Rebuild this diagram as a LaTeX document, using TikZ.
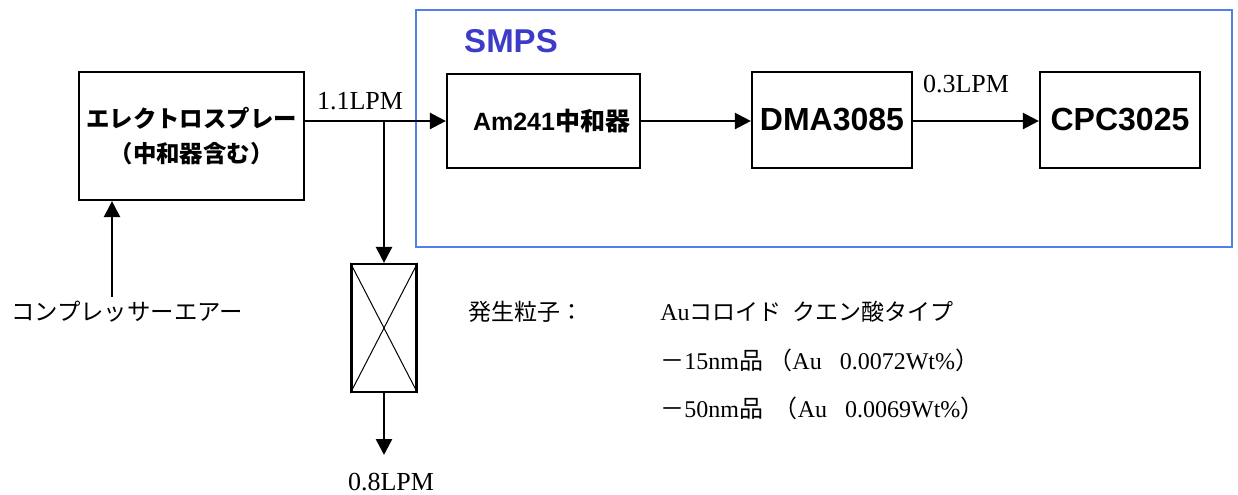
\documentclass[tikz,border=0pt]{standalone}
\usepackage{fontspec}
\setmainfont{Liberation Serif}
\newfontfamily\cjk{Noto Sans CJK JP}
\newfontfamily\arial{Liberation Sans}
\usetikzlibrary{arrows.meta}
\definecolor{smpsframe}{RGB}{85,125,235}
\definecolor{smpstext}{RGB}{60,60,200}

\begin{document}
\begin{tikzpicture}[x=0.5pt, y=-0.5pt,
    blk/.style={draw, line width=1.1pt, inner sep=0pt, align=center},
    flow/.style={line width=1.2pt, -{Triangle[length=8pt,width=8pt]}},
    lpm/.style={inner sep=0pt, font=\fontsize{13pt}{15pt}\selectfont}]
    \useasboundingbox (0,0) rectangle (1238,494);

    % SMPS frame
    \draw[smpsframe, line width=0.8pt] (416,10) rectangle (1232,247);
    \node[inner sep=0pt, text=smpstext, font=\arial\bfseries\fontsize{16.5pt}{19pt}\selectfont] (smps) at (511,41) {SMPS};

    % boxes
    \node[blk, minimum width=112.5pt, minimum height=64pt, font=\cjk\bfseries\fontsize{11.7pt}{17.5pt}\selectfont] (spray) at (191.5,136) {\raisebox{-2pt}{エレクトロスプレー}\\\raisebox{-2pt}{（中和器含む）}};
    \node[blk, minimum width=96.5pt, minimum height=47pt] (am) at (543.5,121) {\hspace*{8pt}{\arial\bfseries\fontsize{12.5pt}{15pt}\selectfont Am241}{\cjk\bfseries\fontsize{12.5pt}{15pt}\selectfont 中和器}};
    \node[blk, minimum width=80pt, minimum height=48pt, font=\arial\bfseries\fontsize{16pt}{19pt}\selectfont] (dma) at (832,120) {DMA3085};
    \node[blk, minimum width=80pt, minimum height=48pt, font=\arial\bfseries\fontsize{16pt}{19pt}\selectfont] (cpc) at (1120,120) {CPC3025};
    \node[blk, minimum width=32.5pt, minimum height=64pt] (filt) at (384,328) {};
    \draw[line width=0.5pt] (filt.north west) -- (filt.south east);
    \draw[line width=0.5pt] (filt.north east) -- (filt.south west);

    % flow
    \coordinate (br) at (384,121);
    \coordinate (out) at (384,455);
    \coordinate (air) at (112,297);
    \draw[flow] (spray.east |- am.west) -- (am.west);
    \draw[flow] (am.east) -- (dma.west |- am.east);
    \draw[flow] (dma.east |- am.east) -- (cpc.west |- am.east);
    \draw[flow] (br) -- (filt.north);
    \draw[flow] (filt.south) -- (out);
    \draw[flow] (air) -- (air |- spray.south);

    % labels
    \node[lpm] (l11) at (360,101) {1.1LPM};
    \node[lpm] (l03) at (966,84) {0.3LPM};
    \node[lpm] (l08) at (391,482) {0.8LPM};
    \node[inner sep=0pt, font=\cjk\fontsize{11.7pt}{14pt}\selectfont] (airtxt) at (127,312) {コンプレッサーエアー};

    % particles
    \node[inner sep=0pt, anchor=west, font=\cjk\fontsize{11.5pt}{14pt}\selectfont] (gen) at (468,312) {発生粒子：};
    \node[inner sep=0pt, anchor=west, font=\fontsize{12pt}{14pt}\selectfont] (p1) at (660,312) {Au{\cjk\fontsize{11.5pt}{14pt}\selectfont コロイド\ \ クエン酸タイプ}};
    \node[inner sep=0pt, anchor=west, font=\fontsize{12pt}{14pt}\selectfont] (p2) at (660,360) {{\cjk －}15nm{\cjk 品\ （}Au\ \ \ 0.0072Wt\%{\cjk ）}};
    \node[inner sep=0pt, anchor=west, font=\fontsize{12pt}{14pt}\selectfont] (p3) at (660,408) {{\cjk －}50nm{\cjk 品\ \ （}Au\ \ \ 0.0069Wt\%{\cjk ）}};
\end{tikzpicture}
\end{document}
